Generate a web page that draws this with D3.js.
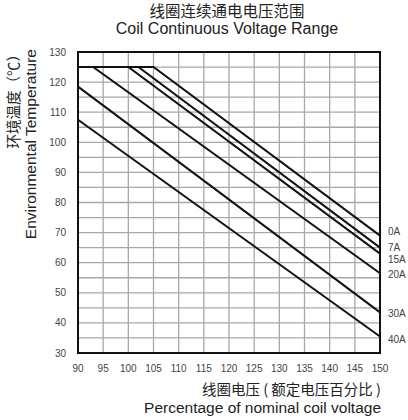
<!DOCTYPE html>
<html>
<head>
<meta charset="utf-8">
<script src="https://cdn.jsdelivr.net/npm/d3@7"></script>
<style>
  body { margin: 0; background: #fff; }
  text { font-family: "Liberation Sans", Arial, "Noto Sans CJK SC", sans-serif; }
  .cjk { font-family: "Noto Sans CJK SC", sans-serif; }
</style>
</head>
<body>
<div id="chart"></div>
<script>
var WIDTH = 408, HEIGHT = 420;

// x: percentage of nominal coil voltage, y: ambient temperature
var xTicks = [90, 95, 100, 105, 110, 115, 120, 125, 130, 135, 140, 145, 150];
var yTicks = [30, 40, 50, 60, 70, 80, 90, 100, 110, 120, 130];

var seriesNames = ['0A', '7A', '15A', '20A', '30A', '40A'];
var curve0A  = [[90, 125], [105, 125], [150, 69]];
var curve7A  = [[90, 125], [102, 125], [150, 65]];
var curve15A = [[90, 125], [100, 125], [150, 63]];
var curve20A = [[90, 125], [93, 125], [150, 56.5]];
var curve30A = [[90, 118.5], [150, 43.5]];
var curve40A = [[90, 107.5], [150, 35.5]];
var curves = [curve0A, curve7A, curve15A, curve20A, curve30A, curve40A];
// label positions on the right side (temperature value)
var labelY = [70.2, 65, 61.2, 56, 43, 34.5];

var margin = { left: 78, right: 28, top: 52, bottom: 67 };

var svg = d3.select('#chart').append('svg')
  .attr('width', WIDTH)
  .attr('height', HEIGHT);

var x = d3.scaleLinear().domain([90, 150]).range([margin.left, WIDTH - margin.right]);
var y = d3.scaleLinear().domain([30, 130]).range([HEIGHT - margin.bottom, margin.top]);

// grid every 5 units
var g = svg.append('g');
g.selectAll('line.vg')
  .data(d3.range(95, 150, 5))
  .enter().append('line')
  .attr('x1', function(d) { return x(d); })
  .attr('x2', function(d) { return x(d); })
  .attr('y1', y(30)).attr('y2', y(130))
  .attr('stroke', '#a8a8a8').attr('stroke-width', 1.3);
g.selectAll('line.hg')
  .data(d3.range(35, 130, 5))
  .enter().append('line')
  .attr('y1', function(d) { return y(d); })
  .attr('y2', function(d) { return y(d); })
  .attr('x1', x(90)).attr('x2', x(150))
  .attr('stroke', '#a8a8a8').attr('stroke-width', 1.3);

// frame
svg.append('rect')
  .attr('x', x(90)).attr('y', y(130))
  .attr('width', x(150) - x(90)).attr('height', y(30) - y(130))
  .attr('fill', 'none').attr('stroke', '#111').attr('stroke-width', 2);

// curves
var line = d3.line()
  .x(function(d) { return x(d[0]); })
  .y(function(d) { return y(d[1]); });
svg.selectAll('path.curve')
  .data(curves)
  .enter().append('path')
  .attr('d', line)
  .attr('fill', 'none')
  .attr('stroke', '#111')
  .attr('stroke-width', 2);

// curve labels
svg.selectAll('text.lbl')
  .data(seriesNames)
  .enter().append('text')
  .attr('x', x(150) + 8)
  .attr('y', function(d, i) { return y(labelY[i]); })
  .attr('dy', '0.35em')
  .attr('font-size', 10)
  .attr('fill', '#444')
  .text(function(d) { return d; });

// axes tick labels
svg.selectAll('text.xt')
  .data(xTicks)
  .enter().append('text')
  .attr('x', function(d) { return x(d); })
  .attr('y', y(30) + 19)
  .attr('text-anchor', 'middle')
  .attr('font-size', 10)
  .attr('fill', '#444')
  .text(function(d) { return d; });
svg.selectAll('text.yt')
  .data(yTicks)
  .enter().append('text')
  .attr('x', x(90) - 12)
  .attr('y', function(d) { return y(d); })
  .attr('dy', '0.35em')
  .attr('text-anchor', 'end')
  .attr('font-size', 10)
  .attr('fill', '#444')
  .text(function(d) { return d; });

// titles
svg.append('text').attr('class', 'cjk')
  .attr('x', 227).attr('y', 17)
  .attr('text-anchor', 'middle').attr('font-size', 15.5).attr('fill', '#222')
  .text('线圈连续通电电压范围');
svg.append('text')
  .attr('x', 227).attr('y', 34)
  .attr('text-anchor', 'middle').attr('font-size', 16).attr('fill', '#222')
  .text('Coil Continuous Voltage Range');

svg.append('text').attr('class', 'cjk')
  .attr('x', 381).attr('y', 395)
  .attr('text-anchor', 'end').attr('font-size', 14.5).attr('fill', '#222')
  .text('线圈电压 ( 额定电压百分比 )');
svg.append('text')
  .attr('x', 381).attr('y', 413)
  .attr('text-anchor', 'end').attr('font-size', 15.5).attr('fill', '#222')
  .text('Percentage of nominal coil voltage');

svg.append('text').attr('class', 'cjk')
  .attr('transform', 'translate(19,47) rotate(-90)')
  .attr('text-anchor', 'end').attr('font-size', 14.5).attr('fill', '#222')
  .text('环境温度（℃）');
svg.append('text')
  .attr('transform', 'translate(36,49) rotate(-90)')
  .attr('text-anchor', 'end').attr('font-size', 15.5).attr('fill', '#222')
  .text('Environmental Temperature');
</script>
</body>
</html>
